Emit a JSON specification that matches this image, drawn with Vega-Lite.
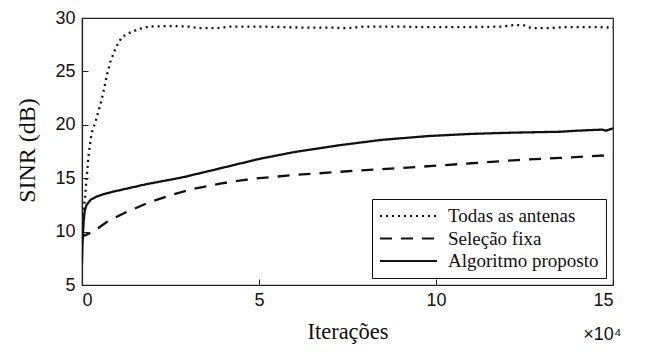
{
  "$schema": "https://vega.github.io/schema/vega-lite/v6.json",
  "width": 531,
  "height": 267,
  "autosize": {"type": "none"},
  "padding": {"left": 82, "top": 18, "right": 34, "bottom": 66},
  "background": "white",
  "config": {
    "view": {"stroke": "#222", "strokeWidth": 1.2},
    "axis": {
      "grid": false,
      "domainColor": "#222",
      "domainWidth": 1.2,
      "tickColor": "#222",
      "tickSize": -6,
      "labelFont": "Liberation Sans",
      "labelFontSize": 18,
      "labelColor": "#111",
      "titleFont": "Liberation Serif",
      "titleFontSize": 22.5,
      "titleFontWeight": "normal",
      "titleColor": "#111"
    },
    "legend": {
      "orient": "bottom-right",
      "offset": 7,
      "fillColor": "white",
      "strokeColor": "#111",
      "padding": 7,
      "symbolType": "stroke",
      "symbolSize": 3249,
      "symbolStrokeWidth": 2,
      "symbolStrokeColor": "#111",
      "clipHeight": 20,
      "labelFont": "Liberation Serif",
      "labelFontSize": 19,
      "labelColor": "#111",
      "labelOffset": 10,
      "rowPadding": 2.5
    }
  },
  "title": {
    "text": "×10⁴",
    "orient": "bottom",
    "anchor": "end",
    "font": "Liberation Sans",
    "fontSize": 18,
    "fontWeight": "normal",
    "color": "#111",
    "offset": -17,
    "dx": 8
  },
  "data": {
    "values": [
      {"s": "Todas as antenas", "x": 0.02, "y": 11.5},
      {"s": "Todas as antenas", "x": 0.08, "y": 13.0},
      {"s": "Todas as antenas", "x": 0.18, "y": 17.0},
      {"s": "Todas as antenas", "x": 0.27, "y": 19.2},
      {"s": "Todas as antenas", "x": 0.41, "y": 20.6},
      {"s": "Todas as antenas", "x": 0.51, "y": 21.8},
      {"s": "Todas as antenas", "x": 0.6, "y": 23.0},
      {"s": "Todas as antenas", "x": 0.7, "y": 24.6},
      {"s": "Todas as antenas", "x": 0.8, "y": 25.9},
      {"s": "Todas as antenas", "x": 0.93, "y": 27.0},
      {"s": "Todas as antenas", "x": 1.03, "y": 27.7},
      {"s": "Todas as antenas", "x": 1.14, "y": 28.25},
      {"s": "Todas as antenas", "x": 1.4, "y": 28.7},
      {"s": "Todas as antenas", "x": 1.64, "y": 29.0},
      {"s": "Todas as antenas", "x": 1.9, "y": 29.2},
      {"s": "Todas as antenas", "x": 2.5, "y": 29.25},
      {"s": "Todas as antenas", "x": 3.0, "y": 29.2},
      {"s": "Todas as antenas", "x": 3.3, "y": 29.05},
      {"s": "Todas as antenas", "x": 3.8, "y": 29.05},
      {"s": "Todas as antenas", "x": 4.2, "y": 29.2},
      {"s": "Todas as antenas", "x": 5.0, "y": 29.2},
      {"s": "Todas as antenas", "x": 5.7, "y": 29.15},
      {"s": "Todas as antenas", "x": 6.2, "y": 29.1},
      {"s": "Todas as antenas", "x": 7.0, "y": 29.1},
      {"s": "Todas as antenas", "x": 7.5, "y": 29.05},
      {"s": "Todas as antenas", "x": 8.0, "y": 29.2},
      {"s": "Todas as antenas", "x": 9.0, "y": 29.2},
      {"s": "Todas as antenas", "x": 9.5, "y": 29.15},
      {"s": "Todas as antenas", "x": 10.0, "y": 29.15},
      {"s": "Todas as antenas", "x": 11.0, "y": 29.15},
      {"s": "Todas as antenas", "x": 11.9, "y": 29.2},
      {"s": "Todas as antenas", "x": 12.2, "y": 29.35},
      {"s": "Todas as antenas", "x": 12.5, "y": 29.3},
      {"s": "Todas as antenas", "x": 12.7, "y": 29.05},
      {"s": "Todas as antenas", "x": 13.2, "y": 29.05},
      {"s": "Todas as antenas", "x": 13.6, "y": 29.15},
      {"s": "Todas as antenas", "x": 14.5, "y": 29.15},
      {"s": "Todas as antenas", "x": 15.0, "y": 29.1},
      {"s": "Seleção fixa", "x": 0.0, "y": 9.2},
      {"s": "Seleção fixa", "x": 0.04, "y": 9.6},
      {"s": "Seleção fixa", "x": 0.32, "y": 10.0},
      {"s": "Seleção fixa", "x": 0.7, "y": 10.9},
      {"s": "Seleção fixa", "x": 1.17, "y": 11.7},
      {"s": "Seleção fixa", "x": 1.83, "y": 12.65},
      {"s": "Seleção fixa", "x": 2.49, "y": 13.4},
      {"s": "Seleção fixa", "x": 3.14, "y": 14.0},
      {"s": "Seleção fixa", "x": 3.9, "y": 14.5},
      {"s": "Seleção fixa", "x": 4.56, "y": 14.83},
      {"s": "Seleção fixa", "x": 5.0, "y": 15.0},
      {"s": "Seleção fixa", "x": 6.0, "y": 15.3},
      {"s": "Seleção fixa", "x": 7.5, "y": 15.65},
      {"s": "Seleção fixa", "x": 9.0, "y": 15.95},
      {"s": "Seleção fixa", "x": 10.0, "y": 16.17},
      {"s": "Seleção fixa", "x": 11.0, "y": 16.4},
      {"s": "Seleção fixa", "x": 12.3, "y": 16.7},
      {"s": "Seleção fixa", "x": 13.5, "y": 16.9},
      {"s": "Seleção fixa", "x": 15.0, "y": 17.17},
      {"s": "Algoritmo proposto", "x": 0.0, "y": 7.0},
      {"s": "Algoritmo proposto", "x": 0.01, "y": 8.5},
      {"s": "Algoritmo proposto", "x": 0.03, "y": 10.0},
      {"s": "Algoritmo proposto", "x": 0.05, "y": 11.1},
      {"s": "Algoritmo proposto", "x": 0.08, "y": 12.0},
      {"s": "Algoritmo proposto", "x": 0.13, "y": 12.5},
      {"s": "Algoritmo proposto", "x": 0.25, "y": 13.0},
      {"s": "Algoritmo proposto", "x": 0.41, "y": 13.27},
      {"s": "Algoritmo proposto", "x": 0.6, "y": 13.5},
      {"s": "Algoritmo proposto", "x": 0.88, "y": 13.74},
      {"s": "Algoritmo proposto", "x": 1.3, "y": 14.05},
      {"s": "Algoritmo proposto", "x": 1.83, "y": 14.45},
      {"s": "Algoritmo proposto", "x": 2.8, "y": 15.05},
      {"s": "Algoritmo proposto", "x": 3.5, "y": 15.6},
      {"s": "Algoritmo proposto", "x": 4.0, "y": 16.0},
      {"s": "Algoritmo proposto", "x": 4.75, "y": 16.6},
      {"s": "Algoritmo proposto", "x": 5.0, "y": 16.8},
      {"s": "Algoritmo proposto", "x": 6.0, "y": 17.45},
      {"s": "Algoritmo proposto", "x": 7.3, "y": 18.1},
      {"s": "Algoritmo proposto", "x": 8.5, "y": 18.6},
      {"s": "Algoritmo proposto", "x": 9.8, "y": 18.95},
      {"s": "Algoritmo proposto", "x": 11.0, "y": 19.15},
      {"s": "Algoritmo proposto", "x": 12.0, "y": 19.25},
      {"s": "Algoritmo proposto", "x": 12.7, "y": 19.3},
      {"s": "Algoritmo proposto", "x": 13.5, "y": 19.35},
      {"s": "Algoritmo proposto", "x": 14.0, "y": 19.45},
      {"s": "Algoritmo proposto", "x": 14.7, "y": 19.55},
      {"s": "Algoritmo proposto", "x": 14.8, "y": 19.45},
      {"s": "Algoritmo proposto", "x": 15.0, "y": 19.67}
    ]
  },
  "mark": {"type": "line", "strokeWidth": 2.3, "color": "#111", "clip": true},
  "encoding": {
    "x": {
      "field": "x",
      "type": "quantitative",
      "scale": {"domain": [0, 15], "nice": false, "zero": false},
      "axis": {"values": [0, 5, 10, 15], "title": "Iterações", "labelPadding": 12, "titleY": 46, "titleBaseline": "middle"}
    },
    "y": {
      "field": "y",
      "type": "quantitative",
      "scale": {"domain": [5, 30], "nice": false, "zero": false},
      "axis": {"values": [5, 10, 15, 20, 25, 30], "title": "SINR (dB)", "titleFontSize": 24, "labelPadding": 13, "titleX": -55, "titleY": 132, "titleAngle": -90, "titleAlign": "center", "titleBaseline": "middle"}
    },
    "strokeDash": {
      "field": "s",
      "type": "nominal",
      "scale": {
        "domain": ["Todas as antenas", "Seleção fixa", "Algoritmo proposto"],
        "range": [[2, 4], [12, 9], [1, 0]]
      },
      "legend": {"title": null}
    }
  }
}
